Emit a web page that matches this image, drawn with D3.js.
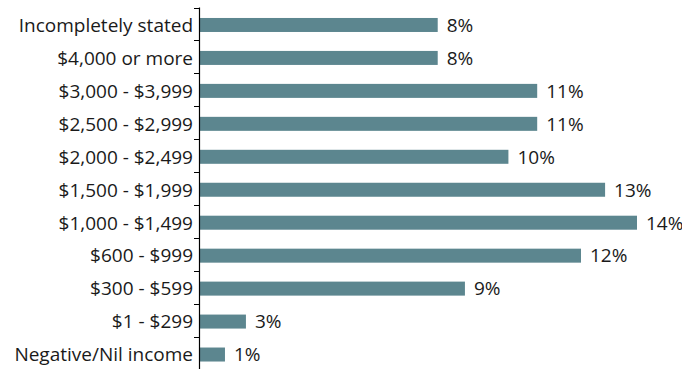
<!DOCTYPE html>
<html>
<head>
<meta charset="utf-8">
<script src="https://cdn.jsdelivr.net/npm/d3@7"></script>
<style>
  html, body { margin: 0; padding: 0; background: #fff; }
  svg { display: block; }
</style>
</head>
<body>
<svg id="chart" width="682" height="369"></svg>
<script>
const categories = ["Incompletely stated", "$4,000 or more", "$3,000 - $3,999", "$2,500 - $2,999",
  "$2,000 - $2,499", "$1,500 - $1,999", "$1,000 - $1,499", "$600 - $999", "$300 - $599",
  "$1 - $299", "Negative/Nil income"];
const values = [7.63, 7.63, 10.81, 10.81, 9.89, 12.98, 14.0, 12.21, 8.5, 1.5, 0.83];
const valueLabels = ["8%", "8%", "11%", "11%", "10%", "13%", "14%", "12%", "9%", "3%", "1%"];

const svg = d3.select("#chart");
const font = "'Open Sans', sans-serif";
const fs = 19;
const x0 = 199;
const x = d3.scaleLinear().domain([0, 14]).range([x0, 637]);
const y = d3.scaleBand().domain(categories).range([7.5, 370]).padding(0);
const barH = 14;

// bars
svg.selectAll("rect.bar").data(categories).join("rect")
  .attr("class", "bar")
  .attr("x", x(0))
  .attr("y", d => y(d) + y.bandwidth() / 2 - barH / 2 + 1)
  .attr("width", (d, i) => x(values[i]) - x(0))
  .attr("height", barH)
  .attr("fill", "#5c868f");

// value labels
svg.selectAll("text.val").data(categories).join("text")
  .attr("class", "val")
  .attr("x", (d, i) => x(values[i]) + 9)
  .attr("y", d => y(d) + y.bandwidth() / 2 + 1)
  .attr("dy", "0.36em")
  .attr("font-family", font)
  .attr("font-size", fs)
  .attr("fill", "#1a1a1a")
  .text((d, i) => valueLabels[i]);

// axis
const axis = svg.append("g");
axis.append("line")
  .attr("x1", x0 + 0.5).attr("x2", x0 + 0.5)
  .attr("y1", y.range()[0]).attr("y2", y.range()[1])
  .attr("stroke", "#000").attr("stroke-width", 1.2);
const tickPos = categories.map(c => y(c)).concat([y.range()[1]]);
axis.selectAll("line.tick").data(tickPos).join("line")
  .attr("class", "tick")
  .attr("x1", x0 - 5).attr("x2", x0 + 0.5)
  .attr("y1", d => Math.round(d) + 0.5).attr("y2", d => Math.round(d) + 0.5)
  .attr("stroke", "#000").attr("stroke-width", 1);

axis.selectAll("text.cat").data(categories).join("text")
  .attr("class", "cat")
  .attr("x", x0 - 6)
  .attr("y", d => y(d) + y.bandwidth() / 2 + 1)
  .attr("dy", "0.36em")
  .attr("text-anchor", "end")
  .attr("font-family", font)
  .attr("font-size", fs)
  .attr("fill", "#1a1a1a")
  .text(d => d);
</script>
</body>
</html>
